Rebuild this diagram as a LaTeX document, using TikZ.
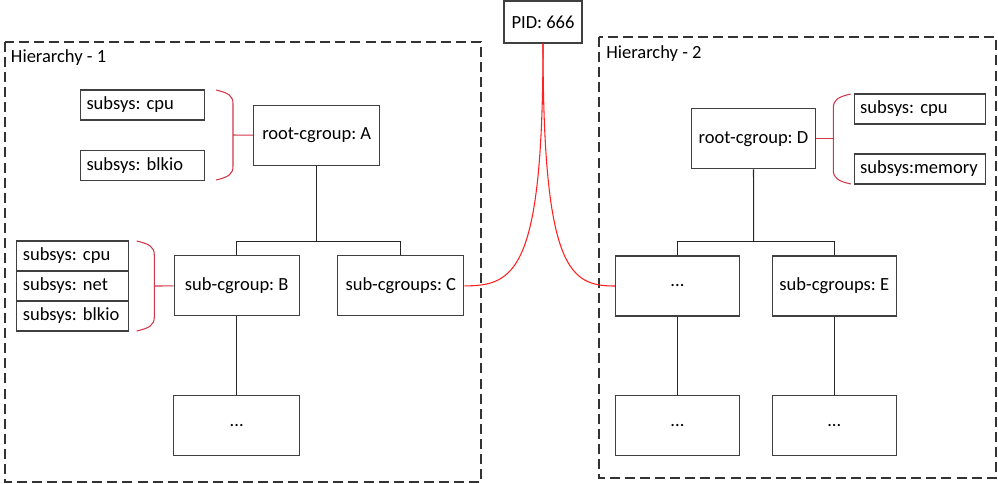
\documentclass[tikz,border=0pt]{standalone}
\usepackage{fontspec}
\setmainfont{Carlito}
\usetikzlibrary{calc}
\frenchspacing
\definecolor{boxline}{HTML}{404040}
\definecolor{bracered}{HTML}{D0384A}
\definecolor{linkred}{HTML}{FF2020}
\def\pxu{0.75pt}
\tikzset{
  cg/.style={draw=boxline, line width=0.8pt, fill=white, inner sep=0pt,
    minimum width=#1*\pxu, minimum height=60*\pxu, font=\fontsize{13.9}{16}\selectfont},
  cg/.default=125,
  subbox/.style={draw=boxline, line width=0.8pt, fill=white, inner xsep=6*\pxu, inner ysep=0pt,
    text width=#1*\pxu-12*\pxu, align=left, minimum height=30*\pxu,
    font=\fontsize{13.9}{16}\selectfont},
  hier/.style={draw=black!80, line width=0.8pt, dash pattern=on 7.5pt off 3.8pt},
  hlabel/.style={anchor=base west, inner sep=0pt, font=\fontsize{13.9}{16}\selectfont},
  tree/.style={draw=black!85, line width=0.8pt},
  brace/.style={draw=bracered, line width=0.8pt},
  link/.style={draw=linkred, line width=0.8pt},
}
\begin{document}
\begin{tikzpicture}[x=0.75pt,y=-0.75pt]
\useasboundingbox (0,0) rectangle (998,483);

% hierarchy containers
\draw[hier] (5,42) rectangle (481,482);
\draw[hier] (599,37) rectangle (996,478);
\node[hlabel] (h1) at (10.7,62.7) {Hierarchy - 1};
\node[hlabel] (h2) at (606,58.3) {Hierarchy - 2};

% PID
\node[cg=78, minimum height=42*\pxu] (pid) at (543,22) {PID: 666};

% Hierarchy 1
\node[cg=126] (A) at (316.7,135.2) {root-cgroup: A};
\node[subbox=124] (cpu1) at (142.5,105) {subsys: cpu};
\node[subbox=124] (blk1) at (142.5,165.3) {subsys: blkio};
\node[cg=125] (B) at (236.7,285.9) {sub-cgroup: B};
\node[cg=126] (C) at (400.8,285.9) {sub-cgroups: C};
\node[subbox=112] (s1) at (72.8,256) {subsys: cpu};
\node[subbox=112] (s2) at (72.8,286) {subsys: net};
\node[subbox=112] (s3) at (72.8,316) {subsys: blkio};
\node[cg=126] (Bc) at (236.7,425.5) {...};

% Hierarchy 2
\node[cg=124] (D) at (753.5,138.8) {root-cgroup: D};
\node[subbox=131] (cpu2) at (919.7,109) {subsys: cpu};
\node[subbox=131] (mem2) at (919.7,169) {subsys:memory};
\node[cg=124] (dots) at (677.5,286) {...};
\node[cg=124] (E) at (834.3,286) {sub-cgroups: E};
\node[cg=124] (dotsc) at (677.5,425.5) {...};
\node[cg=124] (Ec) at (834.3,425.5) {...};

% tree connectors
\coordinate (j1) at (316.7,241.7);
\coordinate (j2) at (753.7,241.7);
\draw[tree] (A.south) -- (j1);
\draw[tree] (B.north) |- (j1) -| (C.north);
\draw[tree] (B.south) -- (Bc.north);
\draw[tree] (D.south) -- (j2);
\draw[tree] (dots.north) |- (j2) -| (E.north);
\draw[tree] (dots.south) -- (dotsc.north);
\draw[tree] (E.south) -- (Ec.north);

% braces
\draw[brace] (216,90) .. controls (229,93) and (233,96) .. (233,104) -- (233,166)
  .. controls (233,174) and (229,177) .. (216,180);
\draw[brace] (233,135) -- (A.west);
\draw[brace] (136.7,241) .. controls (149.7,244) and (154.3,247) .. (154.3,255) -- (154.3,317)
  .. controls (154.3,325) and (149.7,328) .. (136.7,331);
\draw[brace] (154.3,286) -- (B.west);
\draw[brace] (850.7,94) .. controls (837.7,97) and (833.3,100) .. (833.3,108) -- (833.3,170)
  .. controls (833.3,178) and (837.7,181) .. (850.7,184);
\draw[brace] (D.east) -- (833.3,138.8);

% process links
\draw[link] (pid.south) .. controls +(0,227) and +(51,0) .. (C.east);
\draw[link] (pid.south) .. controls +(0,227) and +(-45,0) .. (dots.west);
\end{tikzpicture}
\end{document}
